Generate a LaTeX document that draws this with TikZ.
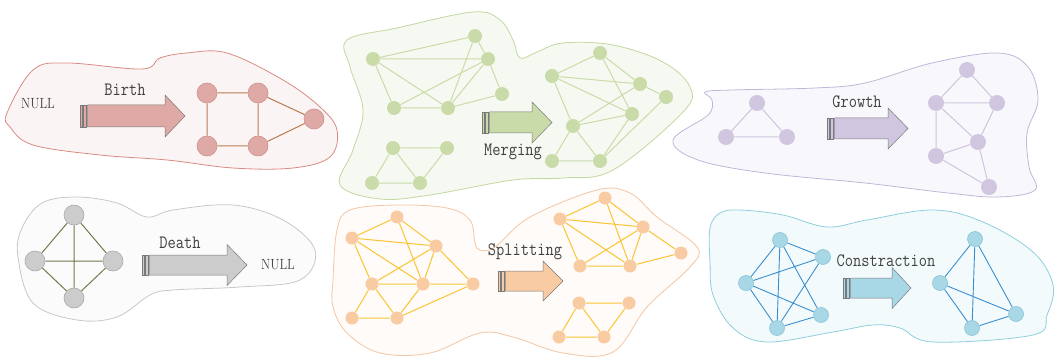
\documentclass[tikz,border=0pt]{standalone}
\pgfdeclarelayer{blob}
\pgfdeclarelayer{edge}
\pgfsetlayers{blob,edge,main}
\definecolor{txt}{HTML}{404040}
\definecolor{arrline}{HTML}{7A7A7A}
% birth
\definecolor{rOut}{HTML}{D98A84}\definecolor{rBg}{HTML}{FAF5F4}
\definecolor{rNode}{HTML}{DFA9A5}\definecolor{rNodeB}{HTML}{CF918C}\definecolor{rEdge}{HTML}{B8794F}
% merging
\definecolor{gOut}{HTML}{C3D7A0}\definecolor{gBg}{HTML}{F6F9F1}
\definecolor{gNode}{HTML}{C9DBA9}\definecolor{gEdge}{HTML}{C9DBA9}
% growth
\definecolor{pOut}{HTML}{C2B6D8}\definecolor{pBg}{HTML}{F8F8FC}
\definecolor{pNode}{HTML}{D0C6DF}\definecolor{pEdge}{HTML}{CFC4DF}
% death
\definecolor{kOut}{HTML}{C8C8C8}\definecolor{kBg}{HTML}{FBFBFB}
\definecolor{kNode}{HTML}{CCCCCC}\definecolor{kNodeB}{HTML}{A9A9A9}\definecolor{kEdge}{HTML}{6F7D4C}
% splitting
\definecolor{oOut}{HTML}{F4C6A3}\definecolor{oBg}{HTML}{FEFBF8}
\definecolor{oNode}{HTML}{F8CBA2}\definecolor{oEdge}{HTML}{FCC433}
% constraction
\definecolor{tOut}{HTML}{8FCFDC}\definecolor{tBg}{HTML}{F3FAFB}
\definecolor{tNode}{HTML}{A8D8E6}\definecolor{tNodeB}{HTML}{88C4D8}\definecolor{tEdge}{HTML}{3A8FD2}
\newcommand\bigarrow[7]{%
 \draw[arrowline, fill=#7] (#1,#4-#5) rectangle (#1+2.5,#4+#5);
 \draw[arrowline, fill=#7] (#1+3.5,#4-#5) rectangle (#1+6.5,#4+#5);
 \draw[arrowline, fill=#7] (#1+7.5,#4-#5) -- (#2,#4-#5) -- (#2,#4-#6) -- (#3,#4) -- (#2,#4+#6) -- (#2,#4+#5) -- (#1+7.5,#4+#5) -- cycle;}
\newcommand\tall[1]{\scalebox{1}[1.18]{#1}}
\begin{document}
\begin{tikzpicture}[x=1pt,y=-1pt,
  arrowline/.style={draw=arrline, line width=0.5pt, line join=miter},
  blobline/.style={line width=0.8pt},
  lbl/.style={font=\ttfamily\fontsize{16}{16}\selectfont, text=txt, inner sep=0pt},
  nul/.style={font=\rmfamily\fontsize{12.5}{12.5}\selectfont, text=txt, inner sep=0pt},
  vtx/.style={circle, inner sep=0pt, line width=0.6pt},
  rv/.style={vtx, minimum size=20pt, fill=rNode, draw=rNodeB},
  gv/.style={vtx, minimum size=14pt, fill=gNode},
  pv/.style={vtx, minimum size=16pt, fill=pNode},
  kv/.style={vtx, minimum size=20pt, fill=kNode, draw=kNodeB},
  ov/.style={vtx, minimum size=13pt, fill=oNode},
  tv/.style={vtx, minimum size=15pt, fill=tNode, draw=tNodeB},
  re/.style={draw=rEdge, line width=1pt},
  ge/.style={draw=gEdge, line width=1pt},
  pe/.style={draw=pEdge, line width=1pt},
  ke/.style={draw=kEdge, line width=1pt},
  oe/.style={draw=oEdge, line width=1pt},
  te/.style={draw=tEdge, line width=0.9pt}]
\useasboundingbox (0,0) rectangle (1056,358);

% ---------------- blobs
\begin{pgfonlayer}{blob}
\draw[blobline, draw=rOut, fill=rBg] plot[smooth cycle, tension=0.6] coordinates {
 (7,113) (33,70) (67,63) (142,69) (160,58) (187,53) (227,53) (283,80) (320,107) (337,130)
 (330,157) (293,168) (233,168) (167,160) (100,155) (33,145) (10,127)};
\draw[blobline, draw=gOut, fill=gBg] plot[smooth cycle, tension=0.6] coordinates {
 (347,40) (397,28) (473,12) (500,20) (513,40) (520,58) (537,52) (563,43) (613,45) (663,62)
 (690,87) (683,112) (613,170) (563,178) (513,180) (430,195) (380,199) (340,185) (353,150)
 (363,110) (350,67)};
\draw[blobline, draw=pOut, fill=pBg] plot[smooth cycle, tension=0.6] coordinates {
 (673,140) (708,115) (712,100) (705,92) (732,90) (815,88) (865,83) (932,63) (998,53) (1028,67)
 (1038,100) (1027,133) (1029,167) (1035,190) (998,197) (948,193) (865,183) (765,173) (698,160)};
\draw[blobline, draw=kOut, fill=kBg] plot[smooth cycle, tension=0.6] coordinates {
 (18,257) (22,228) (42,203) (77,197) (117,203) (147,217) (173,210) (233,205) (283,220) (315,250)
 (300,280) (240,287) (173,290) (150,295) (117,317) (77,320) (33,303)};
\draw[blobline, draw=oOut, fill=oBg] plot[smooth cycle, tension=0.6] coordinates {
 (333,280) (337,230) (350,210) (397,205) (447,208) (470,220) (475,243) (480,250) (495,247)
 (530,217) (597,190) (630,193) (657,217) (697,247) (690,267) (647,307) (613,352) (563,353)
 (513,337) (480,333) (430,353) (380,353) (347,333) (333,307)};
\draw[blobline, draw=tOut, fill=tBg] plot[smooth cycle, tension=0.6] coordinates {
 (710,228) (720,213) (740,210) (783,215) (827,227) (867,220) (933,210) (983,222) (1033,252)
 (1053,285) (1047,315) (1033,335) (933,342) (900,328) (873,325) (833,332) (767,342) (733,328)
 (713,295) (710,262)};
\end{pgfonlayer}

% ---------------- Birth
\node[nul] (null1) at (38,104) {\tall{NULL}};
\node[lbl] (birth) at (125,90) {\tall{Birth}};
\bigarrow{80}{165}{185}{116}{11}{21}{rNode}
\node[rv] (b1) at (207,93) {};
\node[rv] (b2) at (258,93) {};
\node[rv] (b3) at (314,119) {};
\node[rv] (b4) at (207,146) {};
\node[rv] (b5) at (258,146) {};
\begin{pgfonlayer}{edge}
\draw[re] (b1)--(b2) (b1)--(b4) (b2)--(b5) (b2)--(b3) (b4)--(b5) (b5)--(b3);
\end{pgfonlayer}

% ---------------- Merging
\node[lbl] (merging) at (513,152) {\tall{Merging}};
\bigarrow{482}{532}{552}{122.5}{10.5}{20.5}{gNode}
\node[gv] (m1) at (373,59) {};
\node[gv] (m2) at (475,36) {};
\node[gv] (m3) at (488,59) {};
\node[gv] (m4) at (502,94) {};
\node[gv] (m5) at (394,108) {};
\node[gv] (m6) at (448,108) {};
\node[gv] (m7) at (393,148) {};
\node[gv] (m8) at (447,148) {};
\node[gv] (m9) at (372,183) {};
\node[gv] (m10) at (420,183) {};
\node[gv] (n1) at (552,76) {};
\node[gv] (n2) at (600,53) {};
\node[gv] (n3) at (640,84) {};
\node[gv] (n4) at (666,97) {};
\node[gv] (n5) at (632,114) {};
\node[gv] (n6) at (573,126) {};
\node[gv] (n7) at (552,161) {};
\node[gv] (n8) at (600,161) {};
\begin{pgfonlayer}{edge}
\draw[ge] (m1)--(m2) (m1)--(m3) (m1)--(m5) (m1)--(m6) (m5)--(m3) (m5)--(m6) (m2)--(m6)
 (m2)--(m3) (m3)--(m6) (m3)--(m4) (m6)--(m4);
\draw[ge] (m7)--(m8) (m7)--(m9) (m7)--(m10) (m8)--(m10) (m9)--(m10);
\draw[ge] (n1)--(n2) (n1)--(n3) (n1)--(n5) (n1)--(n6) (n2)--(n3) (n2)--(n5) (n3)--(n4)
 (n3)--(n6) (n6)--(n5) (n6)--(n7) (n6)--(n8) (n5)--(n8) (n4)--(n8) (n7)--(n8);
\end{pgfonlayer}

% ---------------- Growth
\node[lbl] (growth) at (857,102) {\tall{Growth}};
\bigarrow{827}{888}{908}{128.5}{10.5}{20.5}{pNode}
\node[pv] (g1) at (757,103) {};
\node[pv] (g2) at (726,137) {};
\node[pv] (g3) at (787,137) {};
\node[pv] (h1) at (967,70) {};
\node[pv] (h2) at (936,103) {};
\node[pv] (h3) at (997,103) {};
\node[pv] (h4) at (978,142) {};
\node[pv] (h5) at (936,156) {};
\node[pv] (h6) at (989,187) {};
\begin{pgfonlayer}{edge}
\draw[pe] (g1)--(g2) (g1)--(g3) (g2)--(g3);
\draw[pe] (h1)--(h2) (h1)--(h3) (h2)--(h3) (h2)--(h4) (h3)--(h4) (h2)--(h5) (h5)--(h4)
 (h4)--(h6) (h5)--(h6);
\end{pgfonlayer}

% ---------------- Death
\node[lbl] (death) at (180,243) {\tall{Death}};
\node[nul] (null2) at (278,265) {\tall{NULL}};
\bigarrow{142}{227}{247}{265}{10}{20.5}{kNode}
\node[kv] (d1) at (74,215) {};
\node[kv] (d2) at (35,261) {};
\node[kv] (d3) at (113,261) {};
\node[kv] (d4) at (74,298) {};
\begin{pgfonlayer}{edge}
\draw[ke] (d1)--(d2) (d1)--(d3) (d1)--(d4) (d2)--(d3) (d2)--(d4) (d3)--(d4);
\end{pgfonlayer}

% ---------------- Splitting
\node[lbl] (splitting) at (525,252) {\tall{Splitting}};
\bigarrow{498}{543}{563}{281}{10}{20}{oNode}
\node[ov] (s1) at (397,217) {};
\node[ov] (s2) at (352,238) {};
\node[ov] (s3) at (436,246) {};
\node[ov] (s4) at (372,284) {};
\node[ov] (s5) at (423,284) {};
\node[ov] (s6) at (473,284) {};
\node[ov] (s7) at (352,318) {};
\node[ov] (s8) at (397,318) {};
\node[ov] (t1) at (605,198) {};
\node[ov] (t2) at (560,219) {};
\node[ov] (t3) at (643,227) {};
\node[ov] (t4) at (580,266) {};
\node[ov] (t5) at (630,266) {};
\node[ov] (t6) at (681,253) {};
\node[ov] (u1) at (579,303) {};
\node[ov] (u2) at (629,303) {};
\node[ov] (u3) at (559,337) {};
\node[ov] (u4) at (604,337) {};
\begin{pgfonlayer}{edge}
\draw[oe] (s2)--(s1) (s2)--(s3) (s2)--(s4) (s2)--(s5) (s1)--(s3) (s1)--(s5) (s3)--(s4)
 (s3)--(s5) (s3)--(s6) (s4)--(s5) (s5)--(s6) (s4)--(s7) (s4)--(s8) (s7)--(s8) (s8)--(s5) (s8)--(s6);
\draw[oe] (t2)--(t1) (t2)--(t3) (t2)--(t4) (t2)--(t5) (t1)--(t3) (t1)--(t5) (t3)--(t4)
 (t3)--(t5) (t3)--(t6) (t4)--(t5) (t5)--(t6);
\draw[oe] (u1)--(u2) (u1)--(u3) (u1)--(u4) (u2)--(u4) (u3)--(u4);
\end{pgfonlayer}

% ---------------- Constraction
\node[lbl] (constraction) at (886,261) {\tall{Constraction}};
\bigarrow{843}{892}{911}{288}{10}{20.5}{tNode}
\node[tv] (c1) at (780,240) {};
\node[tv] (c2) at (823,257) {};
\node[tv] (c3) at (746,283) {};
\node[tv] (c4) at (821,315) {};
\node[tv] (c5) at (777,328) {};
\node[tv] (e1) at (975,239) {};
\node[tv] (e2) at (940,283) {};
\node[tv] (e3) at (1016,314) {};
\node[tv] (e4) at (972,328) {};
\begin{pgfonlayer}{edge}
\draw[te] (c1)--(c2) (c1)--(c3) (c1)--(c4) (c1)--(c5) (c2)--(c3) (c2)--(c5) (c3)--(c4)
 (c3)--(c5) (c4)--(c5);
\draw[te] (e1)--(e2) (e1)--(e3) (e1)--(e4) (e2)--(e3) (e2)--(e4) (e3)--(e4);
\end{pgfonlayer}
\end{tikzpicture}
\end{document}
